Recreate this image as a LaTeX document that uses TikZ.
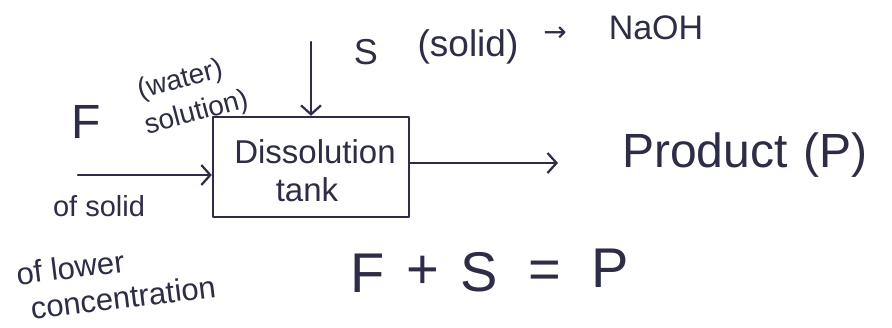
\documentclass[tikz,border=0pt]{standalone}
\usepackage{fontspec}
\setmainfont{Liberation Sans}
\newfontfamily\symfont{DejaVu Sans}
\usetikzlibrary{arrows.meta}
\definecolor{ink}{RGB}{45,45,70}
\tikzset{
  hand/.style={draw=ink, line width=2.4pt, line cap=round, line join=round},
  flow/.style={hand, -{Straight Barb[length=9pt,width=20pt,line width=2.2pt]}},
  lbl/.style={text=ink, inner sep=0pt, anchor=center}
}
\begin{document}
\begin{tikzpicture}[x=1pt,y=-1pt]
\useasboundingbox[fill=white] (0,0) rectangle (892,327);
% tank
\node[hand, rectangle, minimum width=196pt, minimum height=100pt, inner sep=0pt] (tank) at (311,167) {};
\node[lbl, font=\fontsize{33}{33}\selectfont] (t1) at (315,152) {Dissolution};
\node[lbl, font=\fontsize{33}{33}\selectfont] (t2) at (307,190) {tank};
% solid feed from top
\coordinate (sTop) at (311,42);
\draw[flow] (sTop) -- (tank.north);
\node[lbl, font=\fontsize{36}{36}\selectfont] (S) at (366,52) {S};
\node[lbl, font=\fontsize{37}{37}\selectfont] (solid) at (468,47) {(solid)};
\node[lbl, font=\fontsize{28}{28}\symfont] (arr) at (555,34) {→};
\node[lbl, font=\fontsize{34}{34}\selectfont] (naoh) at (656,28) {NaOH};
% feed F from left
\coordinate (fIn) at (78,175);
\draw[flow] (fIn) -- (fIn -| tank.west);
\node[lbl, font=\fontsize{48}{48}\selectfont] (F) at (86,122) {F};
\node[lbl, font=\fontsize{28}{36}\selectfont, rotate=15, align=left] (water) at (192,96) {\hspace*{2pt}(water)\\solution)};
\node[lbl, font=\fontsize{29}{29}\selectfont] (ofsolid) at (99,206) {of solid};
\node[lbl, font=\fontsize{31}{36}\selectfont, rotate=7, align=left] (conc) at (116,280) {of lower\\\hspace*{10pt}concentration};
% product
\coordinate (pOut) at (558,163);
\draw[flow] (pOut -| tank.east) -- (pOut);
\node[lbl, font=\fontsize{48}{48}\selectfont] (prod) at (745,155) {Product\,\,(P)};
% balance
\node[lbl, font=\fontsize{56}{56}\selectfont] (eF) at (368,273) {F};
\node[lbl, font=\fontsize{56}{56}\selectfont] (ePlus) at (423,272) {+};
\node[lbl, font=\fontsize{56}{56}\selectfont] (eS) at (479,272) {S};
\node[lbl, font=\fontsize{56}{56}\selectfont] (eEq) at (545,275) {=};
\node[lbl, font=\fontsize{56}{56}\selectfont] (eP) at (610,268) {P};
\end{tikzpicture}
\end{document}
